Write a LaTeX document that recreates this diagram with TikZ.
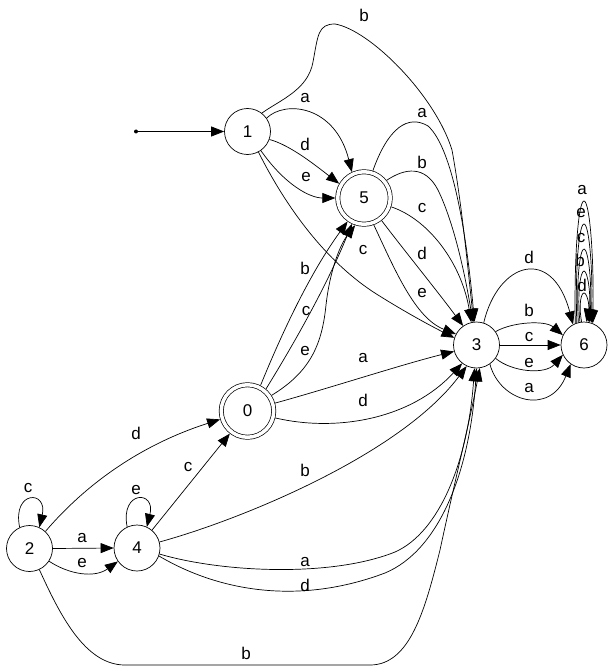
\documentclass[tikz,border=0pt]{standalone}
\usepackage{fontspec}
\setmainfont{Liberation Sans}
\usetikzlibrary{arrows.meta}
\begin{document}
\begin{tikzpicture}[x=1pt,y=-1pt,
  st/.style={circle,draw,line width=0.7pt,minimum size=46pt,inner sep=0pt,outer sep=0.35pt,font=\fontsize{17}{20}\selectfont},
  acc/.style={st,double,double distance=3.5pt,minimum size=52.5pt,outer sep=2.4pt},
  lab/.style={inner sep=0pt,font=\fontsize{17}{20}\selectfont},
  arr/.style={line width=0.7pt,-{Triangle[length=13pt,width=10pt]}},
]
\useasboundingbox (0,0) rectangle (612,671);
% states
\node[st]  (n1) at (247.5,131.5) {1};
\node[acc] (n5) at (364,198) {5};
\node[st]  (n3) at (476.5,345) {3};
\node[st]  (n6) at (584,345) {6};
\node[acc] (n0) at (247.5,411) {0};
\node[st]  (n2) at (29.5,548.5) {2};
\node[st]  (n4) at (137,548) {4};
\node[circle,fill,inner sep=0pt,minimum size=4pt] (s) at (136,131.5) {};
% start
\draw[arr] (s) -- (n1);
% 1 -> 5
\draw[arr] (n1.35) .. controls (285,100) and (335,105) .. (n5.115);
\draw[arr] (n1.-20) .. controls (290,145) and (315,165) .. (n5.150);
\draw[arr] (n1.-55) .. controls (285,185) and (310,198) .. (n5.west);
% 1 -> 3
\draw[arr] (n1.52) .. controls (280,100) and (308,90) .. (313,62) .. controls (318,35) and (318,24) .. (335,24) .. controls (370,30) and (435,95) .. (452,150) .. controls (462,205) and (468,270) .. (n3.97);
\draw[arr] (n1.-62) .. controls (285,205) and (325,262) .. (378,295) .. controls (410,315) and (435,328) .. (n3.162);
% 5 -> 3
\draw[arr] (n5.72) .. controls (388,128) and (408,114) .. (428,126) .. controls (455,150) and (468,250) .. (n3.95);
\draw[arr] (n5.38) .. controls (405,168) and (425,165) .. (438,190) .. controls (455,225) and (466,280) .. (n3.99);
\draw[arr] (n5.-18) .. controls (430,220) and (462,265) .. (n3.103);
\draw[arr] (n5.-52) .. controls (400,245) and (438,292) .. (n3.125);
\draw[arr] (n5.-70) .. controls (395,270) and (415,318) .. (n3.152);
% 0 -> 5
\draw[arr] (n0.63) .. controls (275,350) and (305,280) .. (n5.235);
\draw[arr] (n0.50) .. controls (290,350) and (325,290) .. (n5.245);
\draw[arr] (n0.33) .. controls (310,372) and (322,345) .. (326,305) .. controls (330,270) and (340,245) .. (n5.252);
% 0 -> 3
\draw[arr] (n0.16) .. controls (330,388) and (400,365) .. (n3.196);
\draw[arr] (n0.-14) .. controls (335,432) and (410,420) .. (n3.232);
% 2
\draw[arr] (n2.115) .. controls (12,490) and (48,490) .. (n2.65);
\draw[arr] (n2.east) -- (n4.west);
\draw[arr] (n2.-33) .. controls (70,575) and (95,578) .. (n4.215);
\draw[arr] (n2.47) .. controls (85,485) and (140,445) .. (n0.197);
\draw[arr] (n2.-65) .. controls (60,615) and (85,665) .. (125,665) -- (370,665) .. controls (410,665) and (425,610) .. (440,550) .. controls (455,480) and (470,420) .. (n3.-82);
% 4
\draw[arr] (n4.115) .. controls (120,490) and (156,490) .. (n4.65);
\draw[arr] (n4.50) -- (n0.232);
\draw[arr] (n4.15) .. controls (240,520) and (400,455) .. (n3.245);
\draw[arr] (n4.-15) .. controls (220,572) and (330,578) .. (395,552) .. controls (440,532) and (468,460) .. (n3.-95);
\draw[arr] (n4.-20) .. controls (220,592) and (300,605) .. (385,573) .. controls (440,550) and (470,470) .. (n3.-90);
% 3 -> 6
\draw[arr] (n3.72) .. controls (498,262) and (552,245) .. (n6.118);
\draw[arr] (n3.35) .. controls (512,322) and (545,320) .. (n6.155);
\draw[arr] (n3.east) -- (n6.west);
\draw[arr] (n3.-35) .. controls (512,372) and (545,375) .. (n6.205);
\draw[arr] (n3.-55) .. controls (500,402) and (550,416) .. (n6.235);
% 6 loops
\draw[arr] (n6.112) .. controls (574,255) and (578.5,201) .. (584,201) .. controls (589.5,201) and (594,255) .. (n6.68);
\draw[arr] (n6.108) .. controls (575,269) and (579,224) .. (584,224) .. controls (589,224) and (593,269) .. (n6.72);
\draw[arr] (n6.104) .. controls (576,282) and (579.8,249) .. (584,249) .. controls (588.2,249) and (592,282) .. (n6.76);
\draw[arr] (n6.100) .. controls (577,294) and (580.4,271) .. (584,271) .. controls (587.6,271) and (591,294) .. (n6.80);
\draw[arr] (n6.96) .. controls (578.5,305) and (581,293) .. (584,293) .. controls (587,293) and (589.5,305) .. (n6.84);
% labels
\node[lab] (lb13) at (364,15) {b};
\node[lab] (la15) at (305,98) {a};
\node[lab] (ld15) at (305,144) {d};
\node[lab] (le15) at (306,177) {e};
\node[lab] (lc13) at (363,250) {c};
\node[lab] (la53) at (422,113) {a};
\node[lab] (lb53) at (422,162) {b};
\node[lab] (lc53) at (422,208) {c};
\node[lab] (ld53) at (422,253) {d};
\node[lab] (le53) at (422,293) {e};
\node[lab] (lb05) at (305,268) {b};
\node[lab] (lc05) at (306,311) {c};
\node[lab] (le05) at (305,351) {e};
\node[lab] (la03) at (363,358) {a};
\node[lab] (ld03) at (363,400) {d};
\node[lab] (ld36) at (529,257) {d};
\node[lab] (lb36) at (529,310) {b};
\node[lab] (lc36) at (529,337) {c};
\node[lab] (le36) at (529,363) {e};
\node[lab] (la36) at (529,388) {a};
\node[lab] (la66) at (582,190) {a};
\node[lab] (le66) at (581,213) {e};
\node[lab] (lc66) at (581,238) {c};
\node[lab] (lb66) at (580,260) {b};
\node[lab] (ld66) at (582,285) {d};
\node[lab] (ld20) at (136,433) {d};
\node[lab] (lc22) at (28,488) {c};
\node[lab] (le44) at (136,490) {e};
\node[lab] (lc40) at (188,467) {c};
\node[lab] (lb43) at (305,470) {b};
\node[lab] (la24) at (82,538) {a};
\node[lab] (le24) at (82,563) {e};
\node[lab] (la43) at (305,562) {a};
\node[lab] (ld43) at (305,585) {d};
\node[lab] (lb23) at (246,653) {b};
\end{tikzpicture}
\end{document}
